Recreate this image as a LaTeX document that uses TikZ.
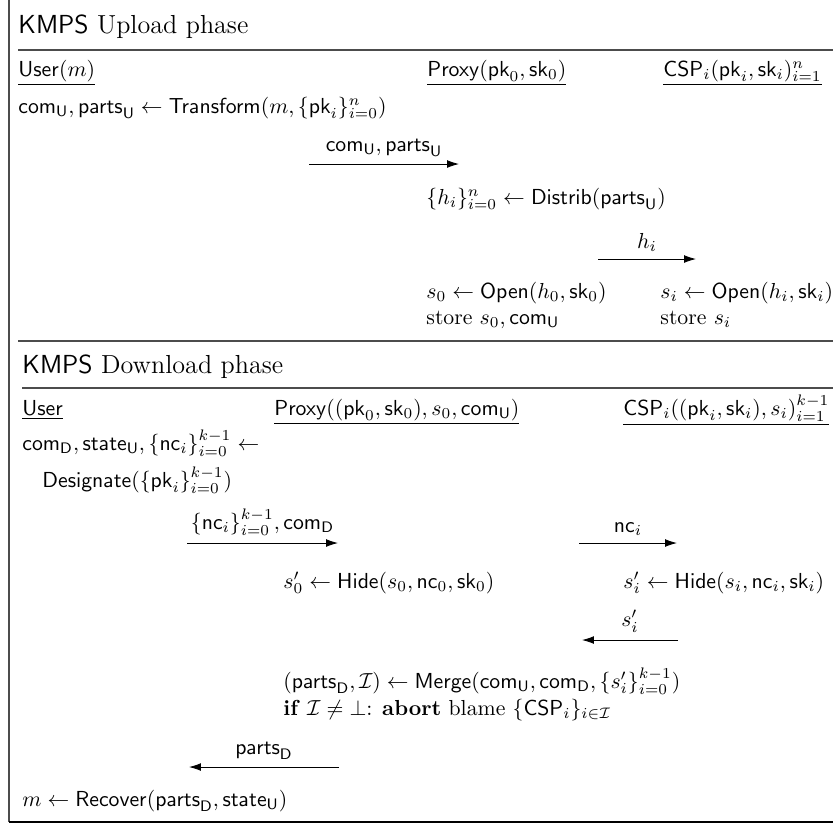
\documentclass[tikz,border=0pt]{standalone}
\usepackage{amsmath,amssymb}
\usetikzlibrary{arrows.meta}
\tikzstyle{phase} = [anchor=base west, inner sep=0pt, font=\large]
\tikzstyle{party} = [anchor=base west, inner sep=0pt]
\tikzstyle{stepline} = [anchor=base west, inner sep=0pt]
\tikzstyle{msg} = [->, >={Latex[length=5.5pt,width=3.6pt]}]
\tikzstyle{sepline} = [line width=0.6pt, black!70]
\newcommand{\sfn}[1]{\mathsf{#1}}

\begin{document}
\begin{tikzpicture}[x=0.46pt, y=-0.46pt]
\useasboundingbox (0,0) rectangle (833,825);
% Frame
\draw [sepline] (9,0) -- (9,822);
\draw [line width=0.8pt] (9,822) -- (833,822);

% Upload phase
\node (uptitle) [phase] at (18,33) {\textsf{KMPS} Upload phase};
\draw [sepline] (18,50) -- (833,50);
\node (upuser) [party] at (18,76) {$\underline{\sfn{User}(m)}$};
\node (upproxy) [party] at (427,76) {$\underline{\sfn{Proxy}(\sfn{pk}_0,\sfn{sk}_0)}$};
\node (upcsp) [party] at (663,76) {$\underline{\sfn{CSP}_i(\sfn{pk}_i,\sfn{sk}_i)_{i=1}^{n}}$};
\node (transform) [stepline] at (18,113) {$\sfn{com}_\sfn{U},\sfn{parts}_\sfn{U}\leftarrow\sfn{Transform}(m,\{\sfn{pk}_i\}_{i=0}^{n})$};
\coordinate (m1a) at (309,164);
\coordinate (m1b) at (459,164);
\node (distrib) [stepline] at (426,204) {$\{h_i\}_{i=0}^{n}\leftarrow\sfn{Distrib}(\sfn{parts}_\sfn{U})$};
\coordinate (m2a) at (598,259);
\coordinate (m2b) at (696,259);
\node (popen) [stepline] at (426,298) {$s_0\leftarrow\sfn{Open}(h_0,\sfn{sk}_0)$};
\node (copen) [stepline] at (660,298) {$s_i\leftarrow\sfn{Open}(h_i,\sfn{sk}_i)$};
\node (pstore) [stepline] at (426,324) {store $s_0,\sfn{com}_\sfn{U}$};
\node (cstore) [stepline] at (660,324) {store $s_i$};

% Download phase
\draw [sepline] (18,341) -- (833,341);
\node (dntitle) [phase] at (22,373) {\textsf{KMPS} Download phase};
\draw [sepline] (22,388) -- (833,388);
\node (dnuser) [party] at (22,415) {$\underline{\sfn{User}}$};
\node (dnproxy) [party] at (274,415) {$\underline{\sfn{Proxy}((\sfn{pk}_0,\sfn{sk}_0),s_0,\sfn{com}_\sfn{U})}$};
\node (dncsp) [party] at (623,415) {$\underline{\sfn{CSP}_i((\sfn{pk}_i,\sfn{sk}_i),s_i)_{i=1}^{k-1}}$};
\node (design) [stepline] at (22,450) {$\sfn{com}_\sfn{D},\sfn{state}_\sfn{U},\{\sfn{nc}_i\}_{i=0}^{k-1}\leftarrow$};
\node (design2) [stepline] at (42,487) {$\sfn{Designate}(\{\sfn{pk}_i\}_{i=0}^{k-1})$};
\coordinate (m3a) at (187,543);
\coordinate (m3b) at (338,543);
\coordinate (m4a) at (579,543);
\coordinate (m4b) at (677,543);
\node (phide) [stepline] at (283,588) {$s_0'\leftarrow\sfn{Hide}(s_0,\sfn{nc}_0,\sfn{sk}_0)$};
\node (chide) [stepline] at (623,588) {$s_i'\leftarrow\sfn{Hide}(s_i,\sfn{nc}_i,\sfn{sk}_i)$};
\coordinate (m5a) at (678,640);
\coordinate (m5b) at (582,640);
\node (merge) [stepline] at (283,688) {$(\sfn{parts}_\sfn{D},\mathcal{I})\leftarrow\sfn{Merge}(\sfn{com}_\sfn{U},\sfn{com}_\sfn{D},\{s_i'\}_{i=0}^{k-1})$};
\node (abort) [stepline] at (283,715) {\textbf{if} $\mathcal{I}\neq\bot$: \textbf{abort} blame $\{\sfn{CSP}_i\}_{i\in\mathcal{I}}$};
\coordinate (m6a) at (339,767);
\coordinate (m6b) at (189,767);
\node (recover) [stepline] at (22,806) {$m\leftarrow\sfn{Recover}(\sfn{parts}_\sfn{D},\sfn{state}_\sfn{U})$};

% Messages
\draw [msg] (m1a) -- node[above] {$\sfn{com}_\sfn{U},\sfn{parts}_\sfn{U}$} (m1b);
\draw [msg] (m2a) -- node[above] {$h_i$} (m2b);
\draw [msg] (m3a) -- node[above] {$\{\sfn{nc}_i\}_{i=0}^{k-1},\sfn{com}_\sfn{D}$} (m3b);
\draw [msg] (m4a) -- node[above] {$\sfn{nc}_i$} (m4b);
\draw [msg] (m5a) -- node[above] {$s_i'$} (m5b);
\draw [msg] (m6a) -- node[above] {$\sfn{parts}_\sfn{D}$} (m6b);
\end{tikzpicture}
\end{document}
